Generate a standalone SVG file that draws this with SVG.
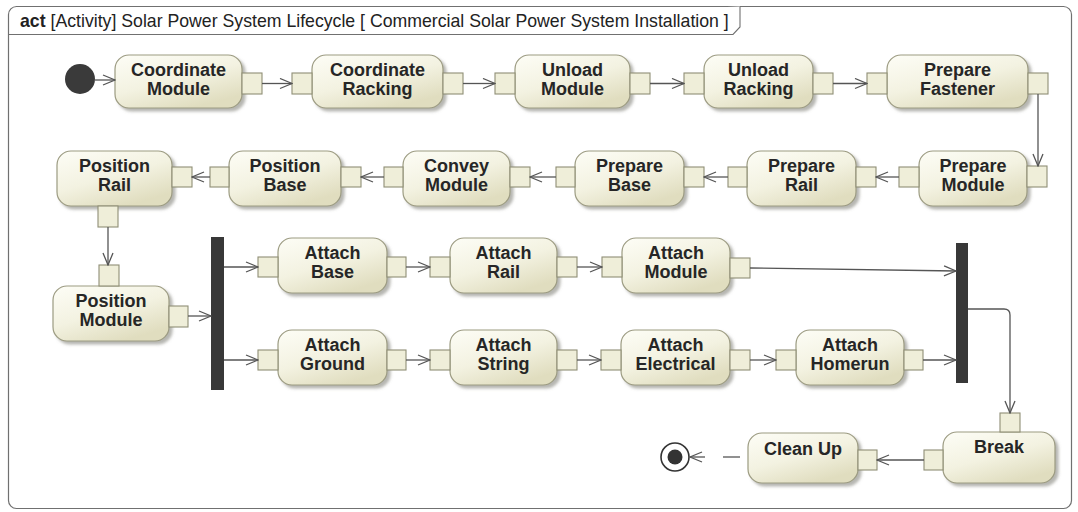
<svg xmlns="http://www.w3.org/2000/svg" width="1078" height="512" viewBox="0 0 1078 512">
  <defs>
    <linearGradient id="actFill" x1="0" y1="0" x2="0.6" y2="1">
      <stop offset="0" stop-color="#fdfdf6"/>
      <stop offset="0.55" stop-color="#f3f2e1"/>
      <stop offset="1" stop-color="#e0ddbf"/>
    </linearGradient>
    <filter id="shadow" x="-10%" y="-10%" width="130%" height="140%">
      <feDropShadow dx="3" dy="3" stdDeviation="1.4" flood-color="#7a7a70" flood-opacity="0.55"/>
    </filter>
    <marker id="open" viewBox="0 0 14 12" refX="13" refY="6" markerWidth="14" markerHeight="12" markerUnits="userSpaceOnUse" orient="auto">
      <path d="M1,1 L13,6 L1,11" fill="none" stroke="#555" stroke-width="1.3"/>
    </marker>
    <style>
      .frame { fill: #ffffff; stroke: #707070; stroke-width: 1.2; }
      .tab { fill: #ffffff; stroke: #707070; stroke-width: 1.1; }
      .hdr { font-family: "Liberation Sans", Arial, sans-serif; font-size: 17.7px; fill: #222; }
      .act { fill: url(#actFill); stroke: #9c9b82; stroke-width: 1.2; filter: url(#shadow); }
      .pin { fill: #efeed9; stroke: #8f8e76; stroke-width: 1.1; }
      .lbl { font-family: "Liberation Sans", Arial, sans-serif; font-size: 18px; font-weight: bold; fill: #262626; text-anchor: middle; }
      .flow { fill: none; stroke: #555; stroke-width: 1.3; }
      .flow.arr { marker-end: url(#open); }
      .bar { fill: #383838; }
      .init { fill: #3a3a3a; }
    </style>
  </defs>

  <!-- activity frame and its name tab -->
  <rect class="frame" x="8.5" y="6.5" width="1063" height="502" rx="8"/>
  <path class="tab" d="M8.5,34.5 H733 L740,27 V6.5"/>
  <text class="hdr" x="20" y="27"><tspan font-weight="bold">act</tspan> [Activity] Solar Power System Lifecycle [ Commercial Solar Power System Installation ]</text>

  <!-- start / end / fork / join -->
  <g id="initial"><circle class="init" cx="80" cy="79" r="15"/></g>
  <g id="final">
    <circle cx="675" cy="457" r="14" fill="#fff" stroke="#333" stroke-width="1.6"/>
    <circle cx="675" cy="457" r="7.5" fill="#333"/>
  </g>
  <g id="fork"><rect class="bar" x="211" y="237" width="13" height="153"/></g>
  <g id="join"><rect class="bar" x="956" y="243" width="12" height="140"/></g>

  <!-- row 1 -->
  <g id="coordinate-module">
    <rect class="act" x="115" y="55" width="127" height="53" rx="14"/>
    <rect class="pin" x="242" y="73" width="20" height="21"/>
    <text class="lbl" y="75.5"><tspan x="178.5">Coordinate</tspan><tspan x="178.5" dy="19">Module</tspan></text>
  </g>
  <g id="coordinate-racking">
    <rect class="act" x="312" y="55" width="131" height="53" rx="14"/>
    <rect class="pin" x="292" y="73" width="20" height="21"/>
    <rect class="pin" x="443" y="73" width="20" height="21"/>
    <text class="lbl" y="75.5"><tspan x="377.5">Coordinate</tspan><tspan x="377.5" dy="19">Racking</tspan></text>
  </g>
  <g id="unload-module">
    <rect class="act" x="515" y="55" width="115" height="53" rx="14"/>
    <rect class="pin" x="495" y="73" width="20" height="21"/>
    <rect class="pin" x="630" y="73" width="20" height="21"/>
    <text class="lbl" y="75.5"><tspan x="572.5">Unload</tspan><tspan x="572.5" dy="19">Module</tspan></text>
  </g>
  <g id="unload-racking">
    <rect class="act" x="704" y="55" width="109" height="53" rx="14"/>
    <rect class="pin" x="684" y="73" width="20" height="21"/>
    <rect class="pin" x="813" y="73" width="20" height="21"/>
    <text class="lbl" y="75.5"><tspan x="758.5">Unload</tspan><tspan x="758.5" dy="19">Racking</tspan></text>
  </g>
  <g id="prepare-fastener">
    <rect class="act" x="887" y="55" width="141" height="53" rx="14"/>
    <rect class="pin" x="867" y="73" width="20" height="21"/>
    <rect class="pin" x="1028" y="73" width="20" height="21"/>
    <text class="lbl" y="75.5"><tspan x="957.5">Prepare</tspan><tspan x="957.5" dy="19">Fastener</tspan></text>
  </g>

  <!-- row 2 (right to left) -->
  <g id="prepare-module">
    <rect class="act" x="919" y="151" width="108" height="55" rx="14"/>
    <rect class="pin" x="1027" y="166" width="20" height="21"/>
    <rect class="pin" x="899" y="167" width="20" height="20"/>
    <text class="lbl" y="171.5"><tspan x="973">Prepare</tspan><tspan x="973" dy="19">Module</tspan></text>
  </g>
  <g id="prepare-rail">
    <rect class="act" x="747" y="151" width="109" height="55" rx="14"/>
    <rect class="pin" x="856" y="167" width="20" height="20"/>
    <rect class="pin" x="728" y="167" width="19" height="20"/>
    <text class="lbl" y="171.5"><tspan x="801.5">Prepare</tspan><tspan x="801.5" dy="19">Rail</tspan></text>
  </g>
  <g id="prepare-base">
    <rect class="act" x="575" y="151" width="109" height="55" rx="14"/>
    <rect class="pin" x="684" y="167" width="20" height="20"/>
    <rect class="pin" x="556" y="167" width="19" height="20"/>
    <text class="lbl" y="171.5"><tspan x="629.5">Prepare</tspan><tspan x="629.5" dy="19">Base</tspan></text>
  </g>
  <g id="convey-module">
    <rect class="act" x="403" y="151" width="107" height="55" rx="14"/>
    <rect class="pin" x="510" y="167" width="20" height="20"/>
    <rect class="pin" x="384" y="167" width="19" height="20"/>
    <text class="lbl" y="171.5"><tspan x="456.5">Convey</tspan><tspan x="456.5" dy="19">Module</tspan></text>
  </g>
  <g id="position-base">
    <rect class="act" x="229" y="151" width="112" height="55" rx="14"/>
    <rect class="pin" x="341" y="167" width="20" height="20"/>
    <rect class="pin" x="210" y="167" width="19" height="20"/>
    <text class="lbl" y="171.5"><tspan x="285">Position</tspan><tspan x="285" dy="19">Base</tspan></text>
  </g>
  <g id="position-rail">
    <rect class="act" x="57" y="151" width="115" height="55" rx="14"/>
    <rect class="pin" x="172" y="167" width="20" height="20"/>
    <rect class="pin" x="98" y="206" width="20" height="21"/>
    <text class="lbl" y="171.5"><tspan x="114.5">Position</tspan><tspan x="114.5" dy="19">Rail</tspan></text>
  </g>

  <!-- row 3 -->
  <g id="position-module">
    <rect class="act" x="53" y="286" width="116" height="55" rx="14"/>
    <rect class="pin" x="99" y="265" width="20" height="21"/>
    <rect class="pin" x="169" y="306" width="19" height="21"/>
    <text class="lbl" y="306.5"><tspan x="111">Position</tspan><tspan x="111" dy="19">Module</tspan></text>
  </g>
  <g id="attach-base">
    <rect class="act" x="278" y="238" width="109" height="55" rx="14"/>
    <rect class="pin" x="258" y="257" width="20" height="20"/>
    <rect class="pin" x="387" y="257" width="19" height="20"/>
    <text class="lbl" y="258.5"><tspan x="332.5">Attach</tspan><tspan x="332.5" dy="19">Base</tspan></text>
  </g>
  <g id="attach-rail">
    <rect class="act" x="450" y="238" width="107" height="55" rx="14"/>
    <rect class="pin" x="430" y="257" width="20" height="20"/>
    <rect class="pin" x="557" y="257" width="20" height="20"/>
    <text class="lbl" y="258.5"><tspan x="503.5">Attach</tspan><tspan x="503.5" dy="19">Rail</tspan></text>
  </g>
  <g id="attach-module">
    <rect class="act" x="622" y="238" width="108" height="55" rx="14"/>
    <rect class="pin" x="602" y="257" width="20" height="20"/>
    <rect class="pin" x="730" y="258" width="20" height="20"/>
    <text class="lbl" y="258.5"><tspan x="676">Attach</tspan><tspan x="676" dy="19">Module</tspan></text>
  </g>

  <!-- row 4 -->
  <g id="attach-ground">
    <rect class="act" x="278" y="330" width="109" height="55" rx="14"/>
    <rect class="pin" x="258" y="350" width="20" height="20"/>
    <rect class="pin" x="387" y="350" width="19" height="20"/>
    <text class="lbl" y="350.5"><tspan x="332.5">Attach</tspan><tspan x="332.5" dy="19">Ground</tspan></text>
  </g>
  <g id="attach-string">
    <rect class="act" x="450" y="330" width="107" height="55" rx="14"/>
    <rect class="pin" x="430" y="350" width="20" height="20"/>
    <rect class="pin" x="557" y="350" width="20" height="20"/>
    <text class="lbl" y="350.5"><tspan x="503.5">Attach</tspan><tspan x="503.5" dy="19">String</tspan></text>
  </g>
  <g id="attach-electrical">
    <rect class="act" x="621" y="330" width="109" height="55" rx="14"/>
    <rect class="pin" x="601" y="350" width="20" height="20"/>
    <rect class="pin" x="730" y="350" width="20" height="20"/>
    <text class="lbl" y="350.5"><tspan x="675.5">Attach</tspan><tspan x="675.5" dy="19">Electrical</tspan></text>
  </g>
  <g id="attach-homerun">
    <rect class="act" x="796" y="330" width="108" height="55" rx="14"/>
    <rect class="pin" x="776" y="350" width="20" height="20"/>
    <rect class="pin" x="904" y="350" width="19" height="20"/>
    <text class="lbl" y="350.5"><tspan x="850">Attach</tspan><tspan x="850" dy="19">Homerun</tspan></text>
  </g>

  <!-- row 5 -->
  <g id="break">
    <rect class="act" x="943" y="432" width="112" height="51" rx="14"/>
    <rect class="pin" x="1000" y="413" width="20" height="19"/>
    <rect class="pin" x="924" y="450" width="19" height="20"/>
    <text class="lbl" x="999" y="453">Break</text>
  </g>
  <g id="clean-up">
    <rect class="act" x="748" y="433" width="110" height="50" rx="14"/>
    <rect class="pin" x="858" y="450" width="19" height="20"/>
    <text class="lbl" x="803" y="455">Clean Up</text>
  </g>

  <!-- control flows -->
  <g id="flows">
    <path class="flow arr" d="M95,80 H115"/>
    <path class="flow arr" d="M262,83.5 H292"/>
    <path class="flow arr" d="M463,83.5 H495"/>
    <path class="flow arr" d="M650,83.5 H684"/>
    <path class="flow arr" d="M833,83.5 H867"/>
    <path class="flow arr" d="M1038,94 V166"/>
    <path class="flow arr" d="M899,177 H876"/>
    <path class="flow arr" d="M728,177 H704"/>
    <path class="flow arr" d="M556,177 H530"/>
    <path class="flow arr" d="M384,177 H361"/>
    <path class="flow arr" d="M210,177 H192"/>
    <path class="flow arr" d="M108,227 V265"/>
    <path class="flow arr" d="M188,316 H211"/>
    <path class="flow arr" d="M224,267 H258"/>
    <path class="flow arr" d="M224,360 H258"/>
    <path class="flow arr" d="M406,267 H430"/>
    <path class="flow arr" d="M577,267 H602"/>
    <path class="flow arr" d="M750,268 L956,271"/>
    <path class="flow arr" d="M406,360 H430"/>
    <path class="flow arr" d="M577,360 H601"/>
    <path class="flow arr" d="M750,360 H776"/>
    <path class="flow arr" d="M923,360 H956"/>
    <path class="flow arr" d="M968,309 H1004 Q1010,309 1010,315 V413"/>
    <path class="flow arr" d="M924,460 H877"/>
    <path class="flow" d="M740,457 H723"/>
    <path class="flow arr" d="M705,457 H690"/>
  </g>
</svg>
